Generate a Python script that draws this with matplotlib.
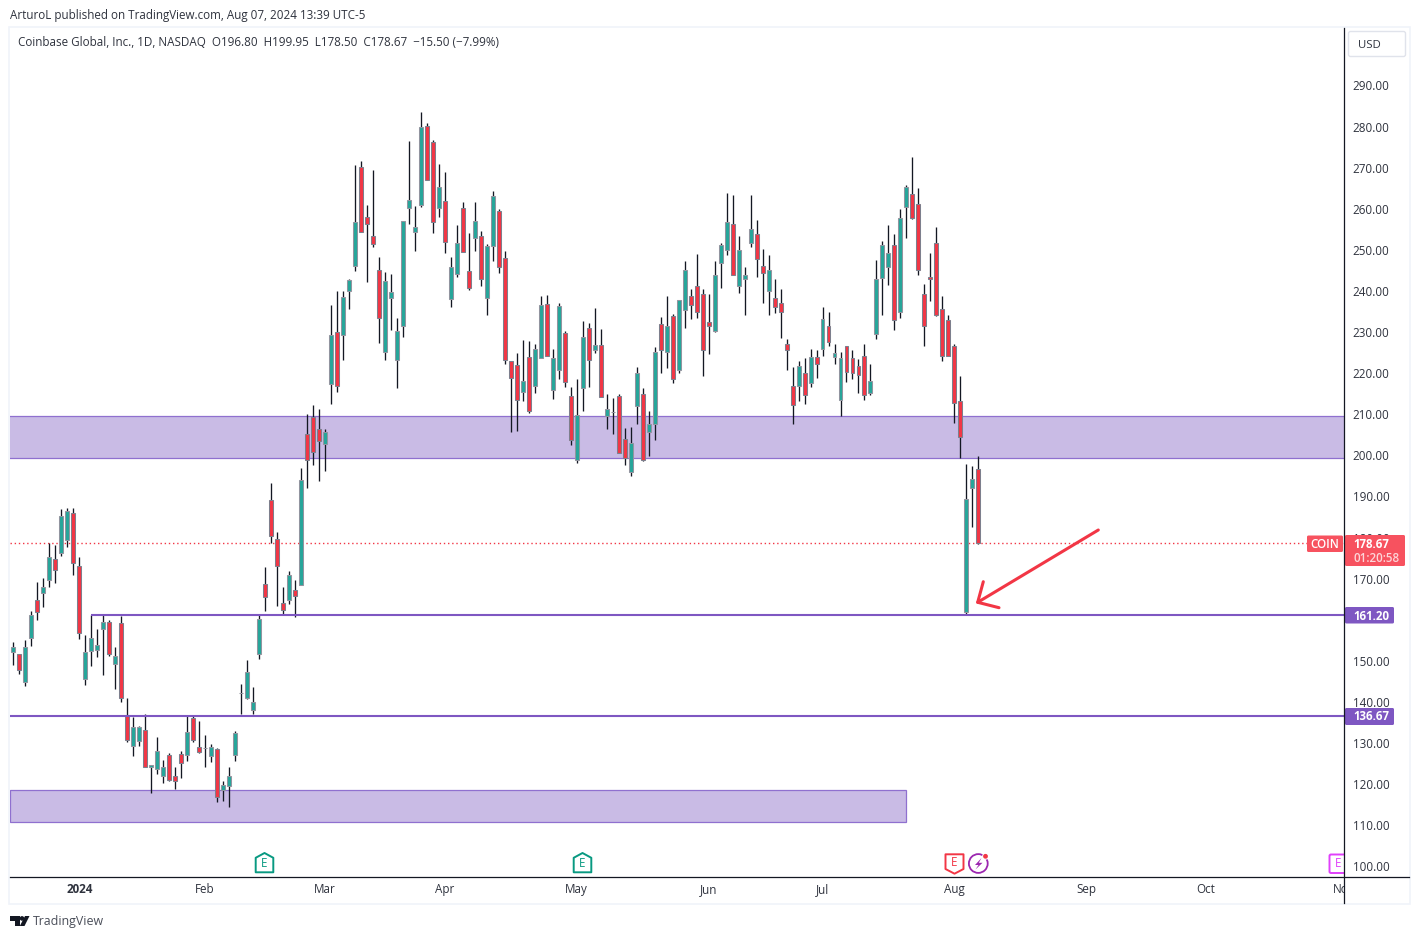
import matplotlib
matplotlib.use("Agg")
import matplotlib.pyplot as plt
from matplotlib.patches import Rectangle, Polygon, Circle, FancyBboxPatch
from matplotlib.transforms import Bbox

plt.rcParams['font.family'] = ['Open Sans', 'DejaVu Sans']

opens = [152.1,151.6,144.8,155.5,164.7,166.6,169.6,174.7,176.2,179.3,
185.9,173.0,145.7,152.3,152.6,157.7,159.4,149.2,159.1,136.9,
129.2,130.4,133.1,124.1,123.8,122.1,127.0,122.1,127.3,127.0,
136.0,129.0,128.7,126.8,128.5,118.5,119.5,127.0,142.1,140.9,
138.1,151.6,168.6,189.1,179.7,164.2,164.7,167.2,168.5,205.2,
209.3,206.4,202.7,217.3,230.0,229.2,239.9,246.0,270.1,258.0,
253.3,245.1,225.1,238.4,223.2,231.4,260.1,254.3,261.0,280.1,
276.2,260.1,261.8,238.0,244.1,260.1,244.8,252.8,253.3,238.2,
250.9,259.4,248.0,222.9,221.9,215.5,223.9,216.8,223.6,236.8,
216.0,220.7,229.9,214.4,199.0,216.3,230.9,225.7,226.8,209.5,
210.5,214.4,203.9,195.9,212.1,214.9,205.6,207.7,231.9,225.1,
233.8,220.9,235.3,238.9,241.1,239.2,232.4,230.2,246.7,249.9,
256.2,241.1,242.8,251.8,253.8,246.2,239.9,238.2,237.2,227.0,
217.0,217.0,220.0,217.5,223.9,226.0,231.4,223.9,213.4,226.5,
223.6,221.7,224.3,215.3,229.5,243.1,245.8,251.1,235.0,260.4,
263.5,261.1,239.2,243.3,251.6,235.5,232.9,226.5,213.2,161.8,
192.0,196.80]
highs = [154.5,151.8,155.0,162.1,169.3,170.2,178.6,178.2,186.9,187.3,
187.1,175.4,156.3,161.2,157.7,161.3,159.9,153.3,160.9,140.9,
136.3,134.1,137.2,124.7,131.6,126.0,127.7,124.1,128.0,136.7,
136.5,135.3,131.9,129.9,128.7,120.7,124.3,132.9,144.5,150.1,
143.6,161.2,172.8,193.4,181.3,167.9,171.8,169.8,196.9,210.1,
212.3,211.3,206.4,236.6,240.0,240.0,242.9,270.7,271.7,261.0,
269.5,248.2,244.6,244.2,233.4,257.0,276.4,260.6,283.5,280.8,
276.7,270.8,268.9,248.2,256.0,261.6,254.1,261.6,254.5,251.4,
264.3,259.9,249.7,222.9,224.9,228.0,227.8,227.1,238.7,239.0,
225.9,237.0,230.2,216.6,218.5,232.7,232.1,235.8,230.7,214.9,
213.9,214.9,206.7,206.9,221.4,216.3,210.7,226.3,233.6,238.7,
234.3,237.7,247.2,240.4,248.9,240.4,239.2,247.2,251.8,263.8,
263.3,253.3,245.8,263.3,257.2,250.1,248.7,242.8,240.4,228.2,
221.4,222.9,223.6,225.8,225.6,236.0,235.0,227.0,225.1,226.5,
225.6,223.4,227.0,222.2,247.5,252.1,256.0,253.8,259.9,265.9,
272.5,265.0,241.6,249.2,255.5,238.9,234.2,227.0,219.2,197.9,
197.4,199.95]
lows = [149.0,146.8,144.0,153.6,159.9,163.1,168.0,169.0,175.5,177.7,
170.9,155.3,144.2,148.7,151.0,146.6,151.3,143.2,140.1,130.3,
126.9,129.4,124.1,117.9,122.6,120.4,120.8,118.9,121.6,125.7,
130.3,127.7,124.3,125.5,115.7,116.0,114.5,125.7,137.1,140.8,
137.1,150.4,162.2,178.8,163.3,161.2,163.8,160.7,168.5,192.1,
197.7,193.8,196.1,212.4,215.5,223.1,235.6,244.9,254.3,242.3,
250.7,227.4,223.1,230.4,216.3,228.8,256.3,249.8,260.5,267.0,
254.1,258.0,249.3,236.1,243.3,249.6,240.3,249.8,241.3,234.2,
247.3,244.4,222.3,205.8,206.0,213.3,210.4,215.1,223.6,224.1,
213.7,218.6,216.6,202.5,198.1,210.8,216.6,224.9,214.3,206.4,
205.2,200.7,197.7,195.1,207.6,198.7,199.8,203.7,220.1,221.2,
217.7,220.1,230.9,233.1,233.5,219.4,224.7,230.0,240.8,248.8,
244.0,239.6,234.2,250.8,243.5,237.2,234.2,234.7,228.6,220.9,
207.7,213.3,212.6,216.6,218.9,224.2,226.5,222.3,209.7,217.9,
218.7,215.3,213.6,214.8,228.2,234.2,241.5,230.6,233.5,253.0,
257.4,244.0,226.5,237.6,234.0,223.0,224.3,208.0,199.4,161.2,
182.6,178.50]
closes = [153.5,147.7,153.3,161.1,161.8,167.9,175.4,172.0,185.2,186.4,
173.7,156.7,152.1,155.5,153.8,159.4,151.7,151.1,141.0,130.7,
133.8,133.8,124.1,124.6,128.0,124.1,121.1,120.9,125.1,132.6,
130.7,127.9,128.7,129.0,117.0,119.7,121.9,132.4,142.1,147.2,
140.1,160.3,165.5,180.3,173.2,162.3,170.8,165.9,194.0,199.0,
200.8,203.4,205.6,229.2,216.8,238.5,242.6,256.7,254.3,256.2,
251.5,233.5,242.4,239.7,230.2,257.0,262.1,255.5,279.8,267.0,
256.7,265.3,252.0,245.8,251.6,249.6,240.8,257.0,242.8,250.9,
263.1,245.8,223.3,218.8,213.6,218.1,210.9,225.8,236.5,224.3,
223.6,236.3,217.9,203.8,209.9,228.7,223.1,226.8,214.3,211.2,
210.5,200.7,199.4,202.9,220.0,199.0,207.6,225.1,225.7,231.4,
218.7,237.7,245.0,236.5,234.8,225.7,231.4,244.0,251.3,256.9,
244.0,249.9,244.0,255.0,247.7,244.5,245.0,236.0,235.0,225.7,
212.2,221.7,214.6,223.9,222.2,233.3,227.5,224.8,223.6,220.4,
220.0,219.5,214.6,218.0,242.8,251.3,249.2,233.0,257.7,265.2,
257.7,245.0,231.4,242.8,234.1,224.3,224.3,212.7,204.4,189.3,
194.2,178.67]

month_positions = [11, 32, 52, 72, 94, 116, 135, 157, 179, 199, 222]
month_labels = ['2024', 'Feb', 'Mar', 'Apr', 'May', 'Jun', 'Jul', 'Aug', 'Sep', 'Oct', 'Nov']
price_ticks = [100, 110, 120, 130, 140, 150, 170, 180, 190, 200, 210,
               220, 230, 240, 250, 260, 270, 280, 290]
zone_upper = (199.25, 209.7)
zone_lower = (110.7, 118.6)
zone_lower_end = 149
level_high = 161.20
level_high_start = 13
level_low = 136.67
last_close = 178.67

title = ('Coinbase Global, Inc., 1D, NASDAQ  O196.80  H199.95  L178.50  '
         'C178.67  \u221215.50 (\u22127.99%)')
published = 'ArturoL published on TradingView.com, Aug 07, 2024 13:39 UTC-5'

W, H = 1420, 939
GREEN, RED = '#26a69a', '#f23645'
GREEN_E, RED_E = '#92949f', '#7d7f8d'
PURPLE, ZONE, ZONE_E = '#7e57c2', '#c9bbe5', '#8f70cf'
WICK, TEXT = '#131722', '#2f333e'
FS = 8.4

fig = plt.figure(figsize=(W / 100, H / 100), dpi=100, facecolor='white')


def pane(l, t, r, b):
    return [l / W, 1 - b / H, (r - l) / W, (b - t) / H]


L, T, R, B = 10, 28, 1344, 877
ax = fig.add_axes(pane(L, T, R, B))
x0, dx = 13.33, 5.994
ax.set_xlim((L - x0) / dx, (R - x0) / dx)
ax.set_ylim(290 - (B - 85.5) / 4.11, 290 - (T - 85.5) / 4.11)
for s in ax.spines.values():
    s.set_visible(False)

# zones and levels
ax.fill_between([ax.get_xlim()[0], ax.get_xlim()[1]], *zone_upper, color=ZONE, lw=0, zorder=1)
ax.fill_between([ax.get_xlim()[0], zone_lower_end], *zone_lower, color=ZONE, lw=0, zorder=1)
for v in zone_upper:
    ax.axhline(v, color=ZONE_E, lw=0.9, zorder=1.5)
ax.add_patch(Rectangle((ax.get_xlim()[0], zone_lower[0]), zone_lower_end - ax.get_xlim()[0],
                       zone_lower[1] - zone_lower[0], fc='none', ec=ZONE_E, lw=0.9, zorder=1.5))

# candles
idx = list(range(len(opens)))
ax.vlines(idx, lows, highs, color=WICK, lw=0.95, zorder=3)
for i, o, c in zip(idx, opens, closes):
    up = c >= o
    ax.bar(i, abs(c - o), bottom=min(o, c), width=0.66, color=GREEN if up else RED,
           edgecolor=GREEN_E if up else RED_E, linewidth=0.75, zorder=4)

ax.axhline(last_close, color=RED, lw=1.0, ls=(0, (1, 2)), zorder=2)
ax.plot([level_high_start, ax.get_xlim()[1]], [level_high] * 2, color=PURPLE, lw=1.5, zorder=5,
        solid_capstyle='butt')
ax.axhline(level_low, color=PURPLE, lw=1.5, zorder=5)

ax.set_xticks(month_positions)
ax.set_xticklabels(month_labels, fontsize=FS, color=TEXT)
ax.get_xticklabels()[0].set_fontweight('bold')
ax.yaxis.tick_right()
ax.set_yticks(price_ticks)
ax.set_yticklabels([f'{v:.2f}' for v in price_ticks], fontsize=FS, color=TEXT, ha='left')
ax.tick_params(axis='x', length=0, pad=11.4)
ax.tick_params(axis='y', length=0, pad=6.3)
clip = Bbox([[L, 0], [R, H]])
for t in ax.get_xticklabels():
    t.set_va('baseline')
    t.set_clip_box(clip)
    t.set_clip_on(True)

# page-space overlay
ov = fig.add_axes([0, 0, 1, 1], zorder=10)
ov.set_xlim(0, W)
ov.set_ylim(H, 0)
ov.axis('off')
ov.patch.set_alpha(0)

ov.add_patch(Rectangle((9.3, 26.8), 1400.5, 877, fc='none', ec='#f0f3fa', lw=1.2))
ov.plot([10, 1409], [876.6, 876.6], color=WICK, lw=0.9)
ov.plot([1344.4, 1344.4], [28, 903], color=WICK, lw=0.9)

ov.text(10, 15, published, fontsize=FS, color=TEXT, va='center')
ov.text(18, 42, title, fontsize=FS, color=TEXT, va='center')

# USD button
ov.add_patch(FancyBboxPatch((1348.5, 31.5), 57, 25, boxstyle='round,pad=0,rounding_size=2',
                            fc='white', ec='#e0e3eb', lw=1))
ov.text(1358, 45, 'USD', fontsize=8.2, color=TEXT, va='center')


def box(x1, y1, x2, y2, color):
    ov.add_patch(FancyBboxPatch((x1, y1), x2 - x1, y2 - y1, boxstyle='round,pad=0,rounding_size=1.5',
                                fc=color, ec='none'))


box(1307, 535.5, 1343, 552, '#f7525f')
ov.text(1325, 544, 'COIN', fontsize=FS, color='white', weight='semibold', ha='center', va='center')
box(1345, 535, 1405, 566, '#f7525f')
ov.text(1353, 544, f'{last_close:.2f}', fontsize=8.3, color='white', weight='bold', va='center')
ov.text(1353, 558, '01:20:58', fontsize=FS, color='#fdd5d8', weight='semibold', va='center')
box(1345, 607, 1394, 623.5, PURPLE)
ov.text(1353, 616, f'{level_high:.2f}', fontsize=8.3, color='white', weight='bold', va='center')
box(1345, 708, 1394, 725, PURPLE)
ov.text(1353, 717, f'{level_low:.2f}', fontsize=8.3, color='white', weight='bold', va='center')

# arrow
ov.plot([1098.3, 977.7], [530, 602.3], color=RED, lw=2.2, solid_capstyle='round')
ov.plot([983.3, 977.7, 999], [581.7, 602.3, 607.7], color=RED, lw=2.2,
        solid_capstyle='round', solid_joinstyle='round')

# earnings / event icons
for cx in (264.5, 582.5):
    ov.add_patch(Polygon([(cx - 8.8, 857.8), (cx, 853), (cx + 8.8, 857.8), (cx + 8.8, 872.3), (cx - 8.8, 872.3)],
                         closed=True, fc='white', ec='#089981', lw=1.4, joinstyle='round'))
    ov.text(cx, 863.8, 'E', fontsize=8.4, color='#089981', ha='center', va='center')
ov.add_patch(Polygon([(945.5, 854.3), (963.5, 854.3), (963.5, 869), (954.5, 873.7), (945.5, 869)],
                     closed=True, fc='white', ec=RED, lw=1.4, joinstyle='round'))
ov.text(954.5, 863, 'E', fontsize=8.4, color=RED, ha='center', va='center')
ov.add_patch(Circle((978.3, 863.5), 9.4, fc='white', ec='#9c27b0', lw=1.3))
ov.add_patch(Polygon([(981.5, 858), (975, 865), (978.5, 865), (975.5, 869.5), (982.5, 862.8), (978.8, 862.8)],
                     closed=True, fc='#9c27b0', ec='none'))
ov.add_patch(Circle((985.5, 856.3), 3.4, fc='white', ec='none'))
ov.add_patch(Circle((985.5, 856.3), 2.4, fc=RED, ec='none'))
mag = FancyBboxPatch((1329.5, 854.5), 20, 18.5, boxstyle='round,pad=0,rounding_size=1.5',
                     fc='white', ec='#e040fb', lw=1.4, transform=ov.transData)
ax.add_patch(mag)
mag.set_zorder(6)
ax.text(1338, 863.5, 'E', fontsize=8.4, color='#e040fb', ha='center', va='center',
        transform=ov.transData, zorder=7, clip_on=True)

# footer
ov.add_patch(Polygon([(10, 916), (19.5, 916), (19.5, 926), (15, 926), (15, 921), (10, 921)],
                     closed=True, fc=WICK, ec='none'))
ov.add_patch(Circle((22, 918.4), 2.3, fc=WICK, ec='none'))
ov.add_patch(Polygon([(25, 916), (29.5, 916), (24.5, 926), (19.8, 926)], closed=True, fc=WICK, ec='none'))
ov.text(33, 921.5, 'TradingView', fontsize=8.9, color='#4a4e59', va='center')

fig.savefig('out.png', dpi=100)
